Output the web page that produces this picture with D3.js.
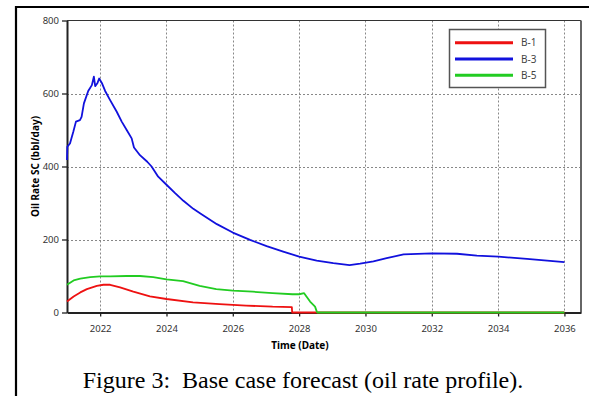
<!DOCTYPE html>
<html>
<head>
<meta charset="utf-8">
<script src="https://cdn.jsdelivr.net/npm/d3@7"></script>
<style>
  html, body { margin: 0; padding: 0; background: #fff; }
  svg { display: block; }
</style>
</head>
<body>
<div id="chart"></div>
<script>
// series values (decimal year, bbl/day)
const b1Years = [2021.0, 2021.2, 2021.4, 2021.6, 2021.9, 2022.1, 2022.3, 2022.6, 2023.0, 2023.5, 2024.0, 2024.8, 2025.6, 2026.4, 2027.2, 2027.78, 2027.79, 2036.0];
const b1Rates = [30, 44, 55, 64, 73, 76, 76, 69, 57, 44, 37, 28, 23, 19, 16, 15, 0, 0];

const b3Years = [2021.0, 2021.01, 2021.09, 2021.19, 2021.27, 2021.39, 2021.44, 2021.51, 2021.64, 2021.75, 2021.81, 2021.85, 2021.92, 2021.97, 2022.05, 2022.15, 2022.3, 2022.5, 2022.65, 2022.8, 2022.95, 2023.02, 2023.2, 2023.42, 2023.55, 2023.75, 2024.0, 2024.26, 2024.51, 2024.81, 2025.01, 2025.52, 2026.0, 2026.52, 2027.02, 2027.52, 2028.0, 2028.53, 2029.03, 2029.52, 2029.84, 2030.24, 2030.64, 2031.15, 2032.0, 2032.76, 2033.36, 2034.01, 2034.87, 2036.0];
const b3Rates = [418, 454, 463, 495, 523, 527, 536, 573, 607, 623, 646, 620, 629, 641, 629, 607, 582, 550, 523, 500, 477, 452, 431, 413, 400, 372, 350, 327, 306, 284, 272, 242, 219, 199, 182, 167, 153, 142, 135, 130, 134, 140, 149, 159, 162, 161, 156, 153, 147, 138];

const b5Years = [2021.0, 2021.2, 2021.4, 2021.7, 2022.0, 2022.3, 2022.8, 2023.2, 2023.6, 2024.0, 2024.5, 2025.0, 2025.5, 2026.0, 2026.6, 2027.2, 2027.8, 2028.0, 2028.15, 2028.33, 2028.48, 2028.53, 2028.55, 2036.0];
const b5Rates = [76, 88, 93, 97, 99, 99, 100, 100, 97, 91, 86, 73, 64, 60, 57, 53, 50, 50, 53, 30, 16, 3, 0, 0];

const xTicks = [2022, 2024, 2026, 2028, 2030, 2032, 2034, 2036];
const yTicks = [0, 200, 400, 600, 800];

const seriesNames = ["B-1", "B-3", "B-5"];
const seriesColors = ["#ee1111", "#1111dd", "#22cc22"];

const width = 589;
const height = 396;
const margin = { top: 20.5, right: 8, bottom: 83.5, left: 67 };

const svg = d3.select("#chart")
    .append("svg")
    .attr("width", width)
    .attr("height", height);

// outer figure frame
svg.append("path")
    .attr("d", "M16,400 L16,7 L600,7")
    .attr("fill", "none")
    .attr("stroke", "#000")
    .attr("stroke-width", 2.2);

const x = d3.scaleLinear()
    .domain([2021, 2036.5])
    .range([margin.left, width - margin.right]);

const y = d3.scaleLinear()
    .domain([0, 800])
    .range([height - margin.bottom, margin.top]);

// grid
svg.append("g")
    .selectAll("line")
    .data(xTicks)
    .join("line")
    .attr("x1", d => Math.round(x(d)) + 0.5)
    .attr("x2", d => Math.round(x(d)) + 0.5)
    .attr("y1", y(800))
    .attr("y2", y(0))
    .attr("stroke", "#888")
    .attr("stroke-dasharray", "2,2");

svg.append("g")
    .selectAll("line")
    .data(yTicks.filter(d => d > 0 && d < 800))
    .join("line")
    .attr("x1", x.range()[0])
    .attr("x2", x.range()[1])
    .attr("y1", d => Math.round(y(d)) + 0.5)
    .attr("y2", d => Math.round(y(d)) + 0.5)
    .attr("stroke", "#888")
    .attr("stroke-dasharray", "2,2");

// plot frame top / right
svg.append("line")
    .attr("x1", x.range()[0]).attr("x2", x.range()[1])
    .attr("y1", y(800)).attr("y2", y(800))
    .attr("stroke", "#333").attr("stroke-width", 1);
svg.append("line")
    .attr("x1", x.range()[1]).attr("x2", x.range()[1])
    .attr("y1", y(800)).attr("y2", y(0))
    .attr("stroke", "#666").attr("stroke-width", 2);

// axes (drawn under the series so the zero-rate lines sit on top)
const xAxis = svg.append("g")
    .attr("transform", `translate(0,${y(0)})`)
    .call(d3.axisBottom(x).tickValues(xTicks).tickFormat(d3.format("d")).tickSize(4).tickSizeOuter(0).tickPadding(9));

const yAxis = svg.append("g")
    .attr("transform", `translate(${x.range()[0]},0)`)
    .call(d3.axisLeft(y).tickValues(yTicks).tickSize(5).tickSizeOuter(0).tickPadding(3));

[xAxis, yAxis].forEach(a => {
  a.select(".domain").attr("stroke", "#222").attr("stroke-width", 2);
  a.selectAll(".tick line").attr("stroke", "#222").attr("stroke-width", 1.3);
  a.selectAll(".tick text")
      .attr("fill", "#333")
      .style("font-family", "'Noto Sans', sans-serif")
      .style("font-size", "9.5px");
});

// lines
const line = d3.line()
    .x(d => x(d[0]))
    .y(d => y(d[1]));

const series = [
  d3.zip(b1Years, b1Rates),
  d3.zip(b3Years, b3Rates),
  d3.zip(b5Years, b5Rates)
];

svg.append("g")
    .selectAll("path")
    .data(series)
    .join("path")
    .attr("d", line)
    .attr("fill", "none")
    .attr("stroke", (d, i) => seriesColors[i])
    .attr("stroke-width", 1.8)
    .attr("stroke-linejoin", "round");

// axis titles
svg.append("text")
    .attr("x", 300)
    .attr("y", 349)
    .attr("text-anchor", "middle")
    .style("font-family", "'Noto Sans', sans-serif")
    .style("font-size", "10px")
    .style("font-weight", "bold")
    .text("Time (Date)");

svg.append("text")
    .attr("transform", `translate(39,${(y(0) + y(800)) / 2}) rotate(-90)`)
    .attr("text-anchor", "middle")
    .style("font-family", "'Noto Sans', sans-serif")
    .style("font-size", "10px")
    .style("font-weight", "bold")
    .text("Oil Rate SC (bbl/day)");

// legend
const legend = svg.append("g");
legend.append("rect")
    .attr("x", 449.5).attr("y", 29.5)
    .attr("width", 96).attr("height", 58)
    .attr("fill", "#fff")
    .attr("stroke", "#555")
    .attr("stroke-width", 1.5);

seriesNames.forEach((name, i) => {
  const ly = 42.7 + i * 16.3;
  legend.append("line")
      .attr("x1", 455).attr("x2", 513)
      .attr("y1", ly).attr("y2", ly)
      .attr("stroke", seriesColors[i])
      .attr("stroke-width", 3);
  legend.append("text")
      .attr("x", 521).attr("y", ly + 3.5)
      .attr("fill", "#444")
      .style("font-family", "'Noto Sans', sans-serif")
      .style("font-size", "10px")
      .text(name);
});

// caption
svg.append("text")
    .attr("x", 303)
    .attr("y", 388)
    .attr("text-anchor", "middle")
    .style("font-family", "'Liberation Serif', 'Times New Roman', serif")
    .style("font-size", "24px")
    .style("white-space", "pre")
    .text("Figure 3:  Base case forecast (oil rate profile).");
</script>
</body>
</html>
